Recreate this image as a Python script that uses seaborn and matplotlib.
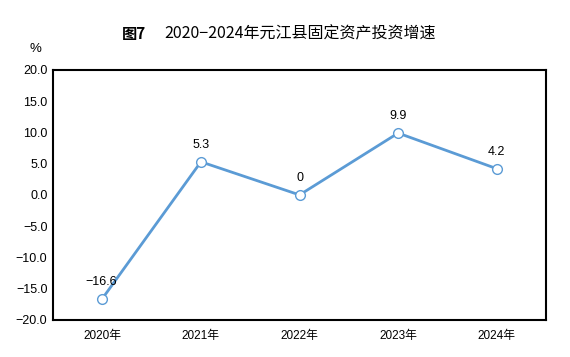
import matplotlib
matplotlib.use("Agg")
import matplotlib.pyplot as plt
import seaborn as sns
import pandas as pd

sns.set_theme(style="white")
plt.rcParams['font.family'] = ['Liberation Sans', 'Noto Sans CJK SC', 'DejaVu Sans']
plt.rcParams['axes.unicode_minus'] = True

years = ['2020年', '2021年', '2022年', '2023年', '2024年']
growth = [-16.6, 5.3, 0, 9.9, 4.2]
value_labels = ['−16.6', '5.3', '0', '9.9', '4.2']
yticks = [-20, -15, -10, -5, 0, 5, 10, 15, 20]

df = pd.DataFrame({'year': years, 'growth': growth})

fig = plt.figure(figsize=(5.7, 3.57), dpi=100)
ax = fig.add_axes([0.093, 0.104, 0.865, 0.70])

sns.lineplot(data=df, x='year', y='growth', ax=ax, color='#5b9bd5', linewidth=2.0,
             marker='o', markersize=7, markerfacecolor='white', markeredgecolor='#5b9bd5',
             markeredgewidth=1.0, sort=False)

for i, (v, lab) in enumerate(zip(growth, value_labels)):
    dx = -1 if i == 0 else 0
    ax.annotate(lab, (i, v), xytext=(dx, 8), textcoords='offset points',
                ha='center', va='bottom', fontsize=9, color='black')

ax.set_xlim(-0.5, 4.5)
ax.set_ylim(-20, 20)
ax.set_yticks(yticks)
ax.set_yticklabels([f'{t:.1f}'.replace('-', '−') for t in yticks])
ax.set_xlabel('')
ax.set_ylabel('')
ax.tick_params(axis='both', length=0, labelsize=9, colors='black', pad=4)
ax.tick_params(axis='x', pad=7, labelsize=8.5)
for s in ax.spines.values():
    s.set_color('black')
    s.set_linewidth(1.5)
    s.set_visible(True)

fig.text(0.062, 0.862, '%', ha='center', va='center', fontsize=9.5, color='black')
fig.text(0.214, 0.905, '图7', ha='left', va='center',
         fontsize=11, fontweight='bold', color='black',
         family=['Noto Sans CJK SC', 'DejaVu Sans'])
fig.text(0.288, 0.905, '2020−2024年元江县固定资产投资增速', ha='left', va='center',
         fontsize=11.5, fontweight='medium', color='black',
         family=['Noto Sans CJK SC', 'DejaVu Sans'])

fig.savefig('out.png', dpi=100)
